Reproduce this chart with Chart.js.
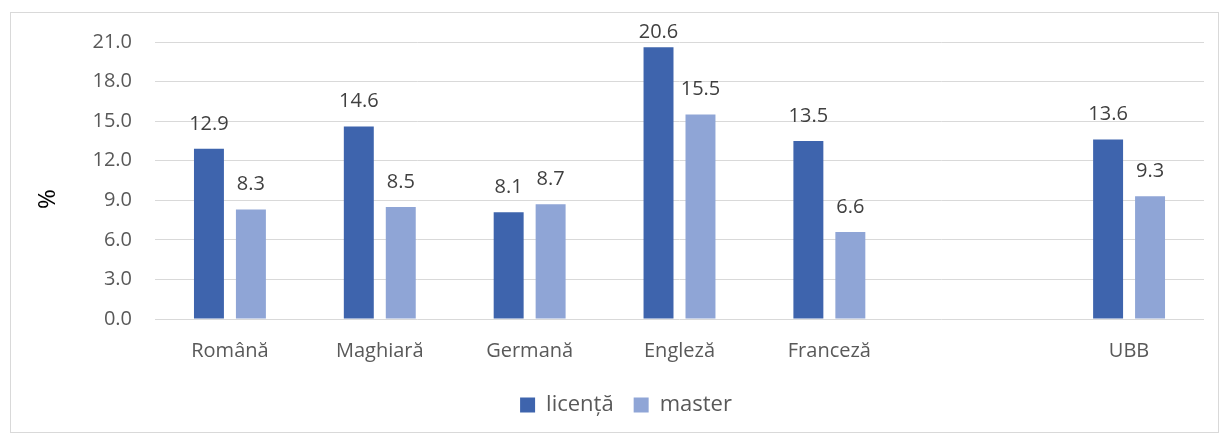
<!DOCTYPE html>
<html>
<head>
<meta charset="utf-8">
<script src="https://cdn.jsdelivr.net/npm/chart.js@4"></script>
<style>
    body { margin: 0; background: #fff; }
    #frame { position: absolute; left: 10px; top: 12px; width: 1207px; height: 419px; border: 1px solid #d9d9d9; }
    #wrap { position: absolute; left: 0; top: 0; width: 1221px; height: 436px; }
</style>
</head>
<body>
<div id="frame"></div>
<div id="wrap"><canvas id="myChart" width="1221" height="436"></canvas></div>
<script>
// categorii si valori (procente)
const categories = ['Română', 'Maghiară', 'Germană', 'Engleză', 'Franceză', '', 'UBB'];
const licenta = [12.9, 14.6, 8.1, 20.6, 13.5, null, 13.6];
const master = [8.3, 8.5, 8.7, 15.5, 6.6, null, 9.3];

const fontName = "'Open Sans', sans-serif";

// eticheta cu valoarea deasupra fiecarei bare
const valueLabels = {
    id: 'valueLabels',
    afterLayout(chart) {
        // legenda putin mai la dreapta, ca in original
        chart.legend.left += 24;
        chart.legend.right += 24;
    },
    afterDatasetsDraw(chart) {
        const ctx = chart.ctx;
        ctx.save();
        ctx.font = '20px ' + fontName;
        ctx.fillStyle = '#404040';
        ctx.textAlign = 'center';
        ctx.textBaseline = 'middle';
        chart.data.datasets.forEach(function(ds, i) {
            const meta = chart.getDatasetMeta(i);
            meta.data.forEach(function(bar, j) {
                if (ds.data[j] == null) return;
                // nu iesim prea sus din zona graficului
                let y = Math.max(bar.y - 25, chart.chartArea.top - 10);
                ctx.fillText(ds.data[j].toFixed(1), bar.x, y);
            });
        });
        ctx.restore();
    }
};

const ctx = document.getElementById('myChart').getContext('2d');

new Chart(ctx, {
    type: 'bar',
    data: {
        labels: categories,
        datasets: [{
            label: 'licență',
            data: licenta,
            backgroundColor: '#3E64AD'
        }, {
            label: 'master',
            data: master,
            backgroundColor: '#8FA5D6'
        }]
    },
    options: {
        responsive: false,
        animation: false,
        categoryPercentage: 0.56,
        barPercentage: 0.714,
        layout: {
            padding: { left: 0, top: 42, right: 17, bottom: 10 }
        },
        plugins: {
            legend: {
                position: 'bottom',
                labels: {
                    color: '#595959',
                    font: { family: fontName, size: 22 },
                    boxWidth: 15,
                    boxHeight: 15,
                    padding: 20
                }
            },
            tooltip: { enabled: false }
        },
        scales: {
            x: {
                grid: { display: false },
                border: { display: false },
                ticks: {
                    color: '#595959',
                    font: { family: fontName, size: 20 },
                    padding: 12,
                    maxRotation: 0
                },
                afterFit: function(scale) { scale.height = 55; }
            },
            y: {
                min: 0,
                max: 21,
                border: { display: false },
                grid: { color: '#d9d9d9', drawTicks: false },
                ticks: {
                    stepSize: 3,
                    color: '#595959',
                    font: { family: fontName, size: 20 },
                    padding: 23,
                    callback: function(v) { return v.toFixed(1); }
                },
                title: {
                    display: true,
                    text: '%\u00a0\u00a0\u00a0\u00a0\u00a0\u00a0',
                    color: '#000',
                    font: { family: fontName, size: 24 },
                    padding: { top: 34, bottom: 0 }
                },
                afterFit: function(scale) { scale.width = 155; }
            }
        }
    },
    plugins: [valueLabels]
});
</script>
</body>
</html>
